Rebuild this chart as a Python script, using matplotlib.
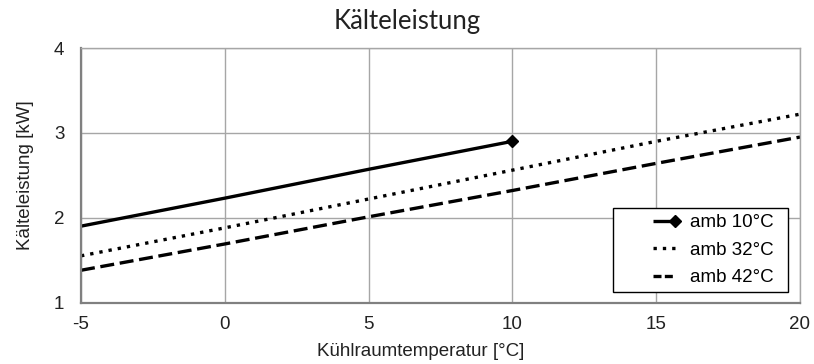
import matplotlib.pyplot as plt
from matplotlib.patches import Rectangle

# Kühlraumtemperatur [°C]
temp_10 = [-5, 0, 5, 10]
temp_all = [-5, 0, 5, 10, 15, 20]

# Kälteleistung [kW] je Umgebungstemperatur
q_amb10 = [1.90, 2.23, 2.57, 2.90]
q_amb32 = [1.55, 1.88, 2.22, 2.56, 2.90, 3.22]
q_amb42 = [1.38, 1.69, 2.01, 2.32, 2.64, 2.95]

xticks = [-5, 0, 5, 10, 15, 20]
yticks = [1, 2, 3, 4]

plt.rcParams['font.family'] = ['Liberation Sans', 'DejaVu Sans']
plt.rcParams['axes.unicode_minus'] = False

fig = plt.figure(figsize=(8.14, 3.64), dpi=100)
ax = fig.add_axes([81 / 814, 1 - 302.5 / 364, 719 / 814, 254.5 / 364])

ax.plot(temp_10, q_amb10, color='black', lw=2.4, marker='D', ms=6.5,
        markevery=[-1], label='amb 10°C', solid_capstyle='butt')
ax.plot(temp_all, q_amb32, color='black', lw=2.4, linestyle=(0, (1, 1.8)),
        label='amb 32°C')
ax.plot(temp_all, q_amb42, color='black', lw=2.4, linestyle=(0, (4.2, 1.7)),
        label='amb 42°C')

ax.set_xlim(-5, 20)
ax.set_ylim(1, 4)
ax.set_xticks(xticks)
ax.set_yticks(yticks)
ax.grid(True, color='#a6a6a6', lw=1)
ax.set_axisbelow(True)
ax.tick_params(length=0, labelsize=13.5, colors='#222222', pad=10)
ax.tick_params(axis='y', pad=12)

for side in ['top', 'right']:
    ax.spines[side].set_color('#a6a6a6')
    ax.spines[side].set_linewidth(1)
for side in ['left', 'bottom']:
    ax.spines[side].set_color('#808080')
    ax.spines[side].set_linewidth(1.6)

ax.set_xlabel('Kühlraumtemperatur [°C]', fontsize=13.5, color='#222222')
ax.xaxis.set_label_coords(0.472, -0.16)
ax.set_ylabel('Kälteleistung [kW]', fontsize=13.5, color='#222222', labelpad=14)
fig.suptitle('Kälteleistung', fontsize=18.5, family=['Lato', 'DejaVu Sans'],
             color='#222222', y=0.975)

# legend box drawn separately, entries placed inside it
ax.add_patch(Rectangle((0.740, 0.041), 0.243, 0.330, transform=ax.transAxes,
                       facecolor='white', edgecolor='black', lw=1, zorder=4))
leg = ax.legend(loc='center left', bbox_to_anchor=(0.788, 0.206), fontsize=13.5,
                frameon=False, borderpad=0, handlelength=1.75,
                handletextpad=0.5, labelspacing=0.55, numpoints=2,
                borderaxespad=0)
leg.set_zorder(5)
# diamond only at the right end of the legend line
leg.legend_handles[0].set_markevery([-1])
# shorter dashes in the small legend sample
leg.legend_handles[2].set_linestyle((0, (2.4, 1.0)))

fig.savefig('out.png', dpi=100)
